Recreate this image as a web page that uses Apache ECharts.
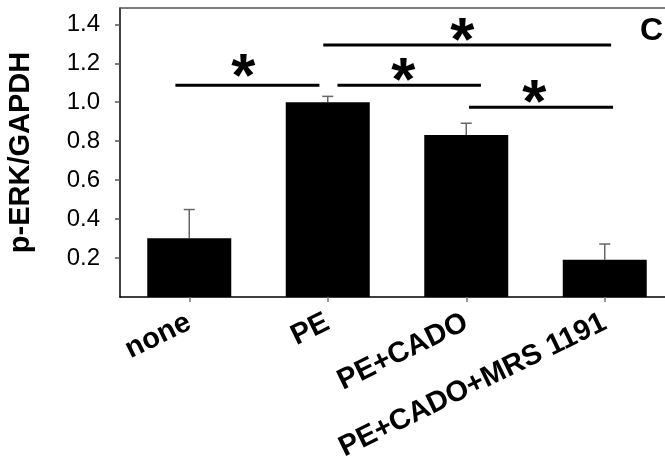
<!DOCTYPE html>
<html>
<head>
<meta charset="utf-8">
<script src="https://cdn.jsdelivr.net/npm/echarts@6/dist/echarts.min.js"></script>
<style>
html,body{margin:0;padding:0;background:#fff;}
#chart{width:665px;height:459px;}
</style>
</head>
<body>
<div id="chart"></div>
<script>
// ---- data ----
var categories = ['none', 'PE', 'PE+CADO', 'PE+CADO+MRS 1191'];
var means = [0.301, 1.0, 0.832, 0.191];
var errors = [0.148, 0.03, 0.06, 0.081];
var yTicks = [0.2, 0.4, 0.6, 0.8, 1.0, 1.2, 1.4];
// significance brackets in data units: [xStart, xEnd, y] (x: category index scale)
var sigLines = [
  [-0.10, 0.94, 1.087],
  [1.07, 2.106, 1.087],
  [0.968, 3.046, 1.294],
  [2.02, 3.06, 0.974]
];
// asterisk centres [x, y]
var sigStars = [
  [0.391, 1.176],
  [1.545, 1.155],
  [1.971, 1.360],
  [2.491, 1.042]
];
var panelLabel = 'C';

var FONT = '"Liberation Sans", Arial, sans-serif';
var chart = echarts.init(document.getElementById('chart'), null, {renderer: 'canvas'});

var option = {
  animation: false,
  backgroundColor: '#fff',
  title: {
    text: panelLabel, left: 640, top: 15, padding: 0,
    textStyle: {fontFamily: FONT, fontWeight: 'bold', fontSize: 32, color: '#000'}
  },
  grid: {left: 120, top: 8, width: 554, height: 289, containLabel: false, outerBoundsMode: 'none'},
  xAxis: [
    {
      type: 'category',
      data: categories,
      position: 'bottom',
      axisLine: {show: true, onZero: false, lineStyle: {color: '#000', width: 1.5}},
      axisTick: {show: true, alignWithLabel: true, length: 5, lineStyle: {color: '#777', width: 1.5}},
      axisLabel: {
        rotate: 26, interval: 0, margin: 24,
        fontFamily: FONT, fontWeight: 'bold', fontSize: 29, color: '#000'
      },
      splitLine: {show: false}
    },
    {
      type: 'value',
      min: -0.5, max: 3.5,
      position: 'top',
      axisLine: {show: true, onZero: false, lineStyle: {color: '#555', width: 1.5}},
      axisTick: {show: false},
      axisLabel: {show: false},
      splitLine: {show: false}
    }
  ],
  yAxis: {
    type: 'value',
    min: 0, max: 1.4837, interval: 0.2,
    name: 'p-ERK/GAPDH',
    nameLocation: 'middle',
    nameRotate: 90,
    nameGap: 85,
    nameTextStyle: {fontFamily: FONT, fontWeight: 'bold', fontSize: 29, color: '#000'},
    axisLine: {show: true, onZero: false, lineStyle: {color: '#000', width: 1.5}},
    axisTick: {show: true, length: 5, customValues: yTicks, lineStyle: {color: '#555', width: 1.5}},
    axisLabel: {
      customValues: yTicks,
      margin: 20,
      fontFamily: FONT, fontSize: 24, color: '#000',
      formatter: function (v) { return v === 0 ? '' : (+v).toFixed(1); }
    },
    splitLine: {show: false}
  },
  series: [
    {
      type: 'custom',
      xAxisIndex: 0,
      z: 1,
      data: means.map(function (m, i) { return [i, m, m + errors[i]]; }),
      renderItem: function (params, api) {
        var base = api.coord([api.value(0), api.value(1)]);
        var top = api.coord([api.value(0), api.value(2)]);
        var hw = 5.5;
        return {
          type: 'group',
          children: [
            {type: 'line', shape: {x1: base[0], y1: base[1], x2: top[0], y2: top[1]},
             style: {stroke: '#666', lineWidth: 1.5}},
            {type: 'line', shape: {x1: top[0] - hw, y1: top[1], x2: top[0] + hw, y2: top[1]},
             style: {stroke: '#666', lineWidth: 1.5}}
          ]
        };
      }
    },
    {
      type: 'bar',
      xAxisIndex: 0,
      z: 2,
      data: means,
      barWidth: 84,
      itemStyle: {color: '#000'}
    },
    {
      type: 'custom',
      xAxisIndex: 1,
      z: 3,
      data: sigLines,
      renderItem: function (params, api) {
        var a = api.coord([api.value(0), api.value(2)]);
        var b = api.coord([api.value(1), api.value(2)]);
        return {type: 'line', shape: {x1: a[0], y1: a[1], x2: b[0], y2: b[1]},
                style: {stroke: '#000', lineWidth: 3}};
      }
    },
    {
      type: 'custom',
      xAxisIndex: 1,
      z: 4,
      data: sigStars,
      renderItem: function (params, api) {
        var p = api.coord([api.value(0), api.value(1)]);
        var fs = 62;
        return {type: 'text', x: p[0], y: p[1] - 0.32 * fs,
                style: {text: '*', font: 'bold ' + fs + 'px "Liberation Sans", Arial, sans-serif',
                        fill: '#000', align: 'center', verticalAlign: 'top'}};
      }
    }
  ]
};
chart.setOption(option);
</script>
</body>
</html>
